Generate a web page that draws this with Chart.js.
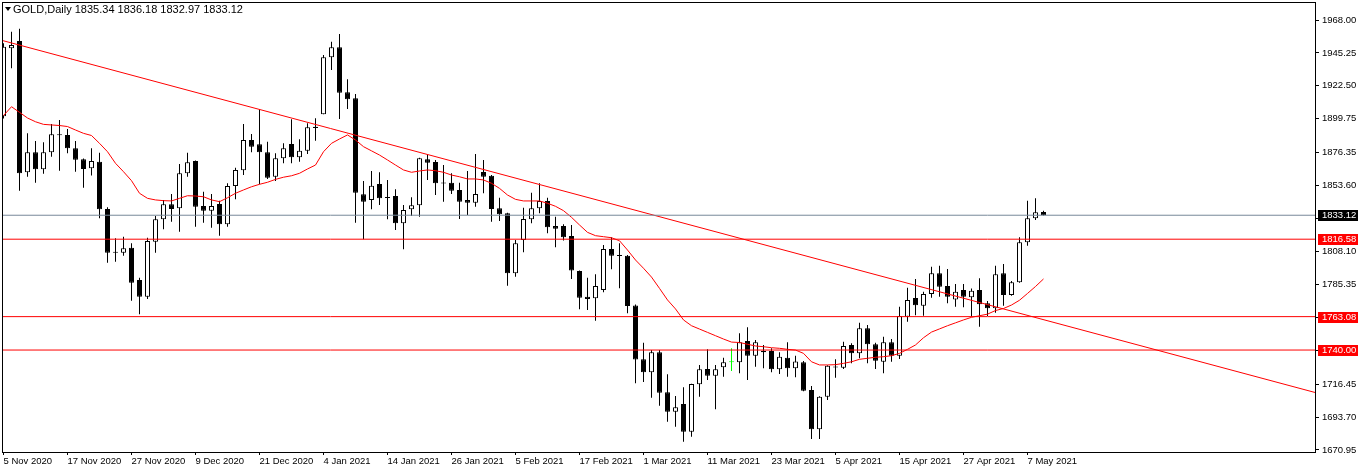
<!DOCTYPE html>
<html>
<head>
<meta charset="utf-8">
<script src="https://cdn.jsdelivr.net/npm/chart.js@4.4.1/dist/chart.umd.min.js"></script>
<style>
  html, body { margin: 0; padding: 0; background: #fff; }
  canvas { display: block; background: #fff; }
</style>
</head>
<body>
<canvas id="chart" width="1362" height="473"></canvas>
<script>
// daily bars, 5 Nov 2020 .. 10 May 2021
const opens = [1901.5,1948.4,1953.5,1862.8,1876.6,1864.9,1876.6,1888.9,1888.6,1879.4,1871.8,1865.6,1870.1,1837.4,1807.6,1807.2,1810.7,1788.4,1776.9,1814.8,
  1830.3,1840.7,1837.9,1862.1,1870.6,1839.5,1836.3,1840.9,1826.9,1853.3,1864.2,1885.1,1882.1,1876.6,1859.7,1872.5,1882.3,1873.2,1877.7,1894.2,
  1902.9,1942.2,1949.1,1918.1,1913.9,1847.6,1843.7,1854.7,1845.5,1846.4,1827.6,1837.2,1840.0,1871.8,1869.9,1855.4,1855.6,1850.6,1843.7,1841.8,
  1863.0,1860.4,1837.9,1834.5,1793.0,1816.0,1830.3,1837.9,1843.0,1825.7,1825.7,1818.8,1794.6,1776.9,1775.7,1781.5,1809.8,1805.4,1805.2,1770.8,
  1733.7,1724.6,1738.4,1710.8,1697.4,1702.7,1683.6,1716.3,1726.9,1722.3,1728.1,1731.5,1731.5,1746.3,1736.1,1739.5,1739.3,1726.7,1734.7,1727.4,
  1731.5,1712.4,1685.2,1707.8,1728.4,1727.8,1743.5,1737.7,1755.0,1744.0,1731.9,1745.3,1736.1,1763.0,1776.0,1770.6,1778.7,1793.0,1784.2,1775.0,
  1781.5,1776.4,1781.5,1772.3,1768.8,1793.0,1778.0,1786.8,1814.4,1831.0,1835.34];
const highs = [1952.0,1959.9,1962.0,1889.7,1884.4,1883.5,1896.2,1898.9,1892.7,1884.4,1872.4,1879.4,1876.3,1838.6,1817.2,1818.3,1813.7,1790.0,1817.6,1832.6,
  1843.7,1847.8,1868.5,1876.3,1870.9,1849.4,1847.8,1843.2,1855.2,1866.0,1896.2,1889.2,1906.5,1883.9,1875.9,1882.8,1899.4,1885.6,1896.6,1900.1,
  1943.8,1953.0,1958.3,1927.0,1916.9,1856.8,1863.7,1862.8,1857.5,1851.0,1840.2,1845.5,1872.8,1875.4,1871.3,1867.8,1862.1,1855.6,1863.7,1875.4,
  1871.3,1860.9,1845.2,1834.8,1816.0,1838.3,1848.7,1855.2,1845.2,1832.0,1826.9,1826.4,1794.9,1790.0,1792.3,1812.6,1817.9,1813.7,1805.7,1771.5,
  1745.0,1740.0,1740.0,1723.2,1708.3,1714.3,1716.8,1729.7,1740.5,1729.7,1734.7,1741.2,1751.6,1755.7,1747.0,1743.5,1741.2,1738.4,1745.3,1736.1,
  1732.4,1715.2,1708.1,1729.5,1733.7,1745.8,1744.7,1758.9,1757.3,1745.1,1749.2,1747.6,1769.9,1783.0,1789.0,1780.3,1797.6,1798.3,1796.0,1785.6,
  1785.6,1782.6,1789.6,1773.9,1798.3,1799.4,1787.7,1817.9,1843.2,1844.8,1836.18];
const lows = [1900.0,1934.6,1850.1,1859.7,1855.6,1861.8,1873.6,1863.9,1875.9,1863.2,1852.2,1860.5,1831.0,1800.3,1801.0,1805.2,1774.1,1764.7,1775.3,1807.2,
  1823.4,1828.7,1821.8,1859.7,1825.2,1828.0,1824.5,1819.0,1825.2,1844.1,1860.9,1876.6,1854.5,1858.2,1856.8,1869.0,1869.0,1870.1,1875.4,1884.6,
  1902.9,1933.5,1899.6,1906.5,1828.0,1816.5,1837.2,1840.2,1830.3,1822.9,1809.6,1832.6,1832.1,1857.5,1847.1,1842.5,1847.8,1830.5,1833.3,1839.0,
  1848.3,1828.7,1829.1,1784.5,1790.7,1807.5,1827.6,1834.5,1820.6,1811.0,1815.6,1789.1,1768.1,1767.7,1760.3,1779.9,1795.8,1782.7,1765.4,1717.0,
  1718.0,1707.1,1701.5,1690.5,1687.0,1676.7,1680.1,1707.8,1719.3,1699.1,1721.6,1725.5,1723.9,1719.3,1728.5,1727.4,1724.6,1723.5,1721.6,1721.2,
  1711.6,1678.5,1678.5,1705.5,1720.8,1726.9,1730.8,1734.3,1730.8,1726.9,1723.9,1731.9,1733.8,1759.6,1764.0,1763.7,1776.2,1776.9,1772.3,1769.9,
  1769.5,1763.0,1756.1,1763.5,1765.8,1770.6,1777.5,1786.5,1812.1,1829.8,1832.97];
const closes = [1949.6,1950.7,1862.1,1876.6,1864.9,1876.6,1889.0,1888.3,1879.4,1871.5,1865.1,1870.6,1837.2,1807.2,1807.2,1810.3,1786.5,1776.9,1815.3,1830.3,
  1840.7,1837.4,1862.1,1869.7,1839.0,1836.3,1839.5,1826.9,1853.3,1864.4,1885.1,1880.5,1876.6,1859.0,1872.5,1879.4,1873.2,1877.7,1893.9,1893.4,
  1942.2,1949.1,1917.8,1913.2,1848.7,1842.5,1853.5,1844.8,1845.0,1827.6,1836.8,1840.0,1872.5,1869.4,1855.2,1855.0,1850.1,1842.5,1841.8,1847.8,
  1859.7,1837.4,1833.8,1793.0,1813.7,1830.5,1837.9,1843.0,1824.8,1823.8,1817.9,1795.0,1776.2,1775.3,1784.2,1809.8,1805.2,1805.0,1770.4,1733.5,
  1724.6,1738.4,1710.5,1697.4,1700.4,1683.6,1716.5,1726.7,1722.3,1726.7,1731.5,1731.5,1745.3,1736.1,1745.3,1738.4,1726.7,1735.4,1727.4,1732.0,
  1711.9,1685.2,1707.8,1729.2,1728.0,1742.8,1737.7,1755.0,1744.0,1732.6,1745.3,1736.1,1763.5,1774.6,1771.0,1778.7,1793.0,1783.8,1776.9,1780.3,
  1776.9,1781.0,1771.6,1768.8,1792.3,1778.0,1786.8,1814.4,1831.0,1835.2,1833.12];
// moving average line, one value per bar
const maValues = [1902.0,1908.1,1904.2,1900.3,1897.7,1895.9,1895.5,1895.1,1894.4,1892.0,1889.7,1888.2,1882.8,1877.0,1869.0,1863.2,1857.0,1848.3,1844.8,1843.7,
  1843.2,1843.0,1844.8,1846.6,1846.4,1845.9,1843.7,1842.5,1845.2,1848.3,1850.6,1852.8,1854.5,1855.9,1857.9,1859.4,1860.4,1862.1,1865.1,1867.8,
  1877.0,1882.8,1885.8,1888.6,1885.1,1880.5,1877.6,1874.7,1871.3,1867.8,1864.4,1862.8,1863.7,1864.4,1863.9,1862.8,1860.9,1859.7,1858.2,1858.2,
  1857.5,1855.2,1851.7,1847.1,1844.1,1843.0,1843.0,1843.0,1841.4,1839.3,1836.3,1831.7,1826.4,1821.3,1819.0,1818.3,1817.6,1815.5,1809.1,1802.2,
  1796.5,1790.4,1782.6,1774.6,1768.4,1760.8,1756.8,1754.5,1752.2,1749.9,1747.6,1745.5,1745.2,1744.0,1742.8,1742.3,1741.6,1741.2,1740.5,1740.0,
  1737.7,1731.9,1729.7,1729.7,1729.9,1730.8,1731.9,1733.6,1734.3,1735.0,1735.4,1736.1,1737.7,1740.5,1743.5,1748.5,1752.4,1754.6,1756.8,1758.8,
  1760.8,1762.6,1763.7,1764.8,1767.3,1768.7,1771.1,1774.4,1779.1,1783.9,1789.1];

const tickBars = [0,8,16,24,32,40,48,56,64,72,80,88,96,104,112,120,128];
const tickDates = ['5 Nov 2020','17 Nov 2020','27 Nov 2020','9 Dec 2020','21 Dec 2020','4 Jan 2021','14 Jan 2021','26 Jan 2021','5 Feb 2021',
  '17 Feb 2021','1 Mar 2021','11 Mar 2021','23 Mar 2021','5 Apr 2021','15 Apr 2021','27 Apr 2021','7 May 2021'];
const priceTicks = [1968.00,1945.25,1922.50,1899.75,1876.35,1853.60,1830.85,1808.10,1785.35,1762.60,1739.85,1716.45,1693.70,1670.95];

const levels = [1833.12, 1816.58, 1763.08, 1740.00];
const levelColors = ['#778899', '#ff0000', '#ff0000', '#ff0000'];
const levelBoxColors = ['#000000', '#ff0000', '#ff0000', '#ff0000'];
const trendBars = [-0.1875, 164.0625];
const trendPrices = [1953.9, 1710.5];

const xMin = -0.1875, xMax = 164.0625;
const yMin = 1669.566, yMax = 1979.744;
const FONT = 'Liberation Sans';

const bodyData = opens.map((o, i) => ({x: i, y: [o, closes[i]]}));
const wickData = lows.map((l, i) => ({x: i, y: [l, highs[i]]}));
const candleFill = opens.map((o, i) => o === closes[i] ? '#00ff00' : (closes[i] > o ? '#ffffff' : '#000000'));
const candleEdge = opens.map((o, i) => o === closes[i] ? '#00ff00' : '#000000');

const datasets = [];
levels.forEach((v, k) => {
  datasets.push({
    type: 'line', order: 0,
    data: [{x: xMin, y: v}, {x: xMax, y: v}],
    borderColor: levelColors[k], borderWidth: 1, pointRadius: 0
  });
});
datasets.push({
  type: 'line', order: 0,
  data: trendBars.map((b, i) => ({x: b, y: trendPrices[i]})),
  borderColor: '#ff0000', borderWidth: 1, pointRadius: 0
});
datasets.push({
  type: 'line', order: 0,
  data: maValues.map((v, i) => ({x: i, y: v})),
  borderColor: '#ff0000', borderWidth: 1, pointRadius: 0, tension: 0
});
datasets.push({
  type: 'bar', order: 1, grouped: false,
  data: bodyData,
  barThickness: 5, minBarLength: 1, inflateAmount: 0,
  backgroundColor: candleFill, borderColor: candleEdge,
  borderWidth: 1, borderSkipped: false
});
datasets.push({
  type: 'bar', order: 2, grouped: false,
  data: wickData,
  barThickness: 1, inflateAmount: 0,
  backgroundColor: candleEdge, borderWidth: 0
});

// frame, header text and the price boxes on the right axis
const mtDecor = {
  id: 'mtDecor',
  afterDraw(chart) {
    const {ctx, chartArea: a, scales: {y}} = chart;
    ctx.save();
    ctx.strokeStyle = '#000';
    ctx.lineWidth = 1;
    ctx.strokeRect(a.left + 0.5, a.top - 0.5, a.right - a.left - 1, a.bottom - a.top + 1);

    ctx.fillStyle = '#000';
    ctx.beginPath();
    ctx.moveTo(5, 7); ctx.lineTo(11, 7); ctx.lineTo(8, 11); ctx.closePath();
    ctx.fill();
    ctx.font = '11px ' + FONT;
    ctx.textBaseline = 'middle';
    ctx.textAlign = 'left';
    ctx.fillText('GOLD,Daily 1835.34 1836.18 1832.97 1833.12', 13, 10);

    ctx.font = '9.5px ' + FONT;
    levels.forEach((v, k) => {
      const py = Math.round(y.getPixelForValue(v));
      ctx.fillStyle = levelBoxColors[k];
      ctx.fillRect(a.right + 2, py - 5, 40, 11);
      ctx.fillStyle = '#fff';
      ctx.fillText(v.toFixed(2), a.right + 6, py + 0.5);
    });
    ctx.restore();
  }
};

new Chart(document.getElementById('chart'), {
  type: 'bar',
  data: {datasets},
  options: {
    responsive: false,
    animation: false,
    layout: {padding: {left: 2, top: 3, right: 0, bottom: 0}},
    plugins: {legend: {display: false}, tooltip: {enabled: false}},
    scales: {
      x: {
        type: 'linear', min: xMin, max: xMax, offset: false,
        border: {display: false},
        grid: {display: true, offset: false, drawOnChartArea: false, drawTicks: true, tickLength: 3, color: '#000'},
        ticks: {
          autoSkip: false, maxRotation: 0, align: 'start', padding: 1, color: '#000',
          font: {family: FONT, size: 9.5},
          callback: v => tickDates[tickBars.indexOf(v)]
        },
        afterBuildTicks: s => { s.ticks = tickBars.map(v => ({value: v})); },
        afterFit: s => { s.height = 21; s.paddingLeft = 0; s.paddingRight = 0; }
      },
      y: {
        type: 'linear', position: 'right', min: yMin, max: yMax, beginAtZero: false,
        border: {display: false},
        grid: {display: true, drawOnChartArea: false, drawTicks: true, tickLength: 3, color: '#000'},
        ticks: {
          padding: 3, color: '#000',
          font: {family: FONT, size: 9.5},
          callback: v => v.toFixed(2)
        },
        afterBuildTicks: s => { s.ticks = priceTicks.map(v => ({value: v})); },
        afterFit: s => { s.width = 46; s.paddingTop = 0; s.paddingBottom = 0; }
      }
    }
  },
  plugins: [mtDecor]
});
</script>
</body>
</html>
